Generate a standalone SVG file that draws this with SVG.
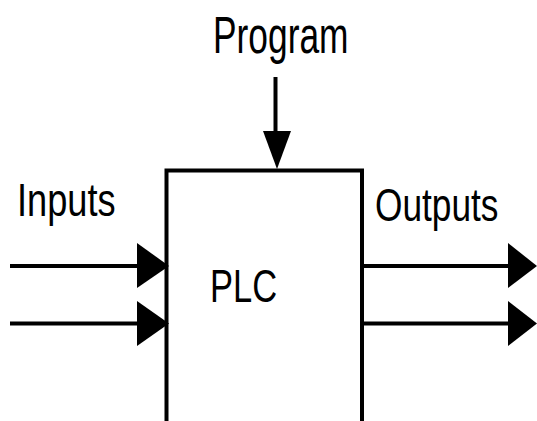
<svg xmlns="http://www.w3.org/2000/svg" width="537" height="421" viewBox="0 0 537 421">
<style>
.t{font-family:"Liberation Sans",Arial,sans-serif;fill:#000}
.ln{stroke:#000;stroke-width:4;fill:none}
.hd{fill:#000}
</style>
<rect width="537" height="421" fill="#fff"/>
<g id="plc">
<path class="ln" d="M166.5,421 V170.5 H362 V421"/>
<text class="t" transform="translate(210,301.5) scale(0.75,1)" font-size="46">PLC</text>
</g>
<g id="program">
<text class="t" transform="translate(213,52.7) scale(0.68,1)" font-size="52">Program</text>
</g>
<g id="inputs">
<text class="t" transform="translate(17,215.7) scale(0.77,1)" font-size="47">Inputs</text>
</g>
<g id="outputs">
<text class="t" transform="translate(375,220.5) scale(0.75,1)" font-size="47">Outputs</text>
</g>
<g id="connectors">
<line class="ln" x1="275.5" y1="77" x2="275.5" y2="140" stroke-width="3"/>
<polygon class="hd" points="263,131 291,131 277,169"/>
<line class="ln" x1="10" y1="266" x2="140" y2="266"/>
<polygon class="hd" points="137,243 169,266 137,288"/>
<line class="ln" x1="10" y1="323.5" x2="140" y2="323.5"/>
<polygon class="hd" points="137,301 169,323.5 137,346"/>
<line class="ln" x1="362" y1="266" x2="510" y2="266"/>
<polygon class="hd" points="508,243 537,266 508,288"/>
<line class="ln" x1="362" y1="323.5" x2="510" y2="323.5"/>
<polygon class="hd" points="508,301 537,323.5 508,346"/>
</g>
</svg>
